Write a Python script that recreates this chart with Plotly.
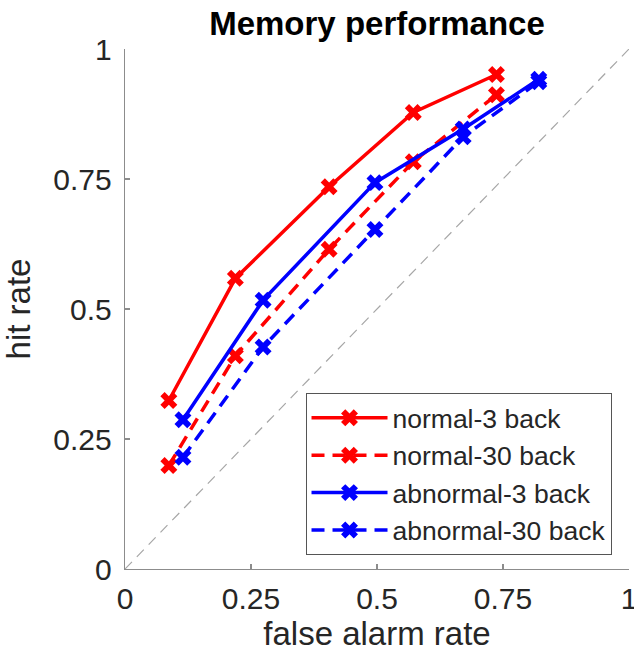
import plotly.graph_objects as go

# ---- data ----
fa_normal = [0.087, 0.219, 0.405, 0.572, 0.737]
hit_normal_3 = [0.324, 0.559, 0.735, 0.878, 0.951]
hit_normal_30 = [0.199, 0.410, 0.615, 0.783, 0.912]

fa_abnormal = [0.115, 0.274, 0.496, 0.671, 0.821]
hit_abnormal_3 = [0.287, 0.517, 0.743, 0.846, 0.942]
hit_abnormal_30 = [0.215, 0.427, 0.653, 0.831, 0.937]

chance_x = [0, 1]
chance_y = [0, 1]

tick_vals = [0, 0.25, 0.5, 0.75, 1]
tick_text = ["0", "0.25", "0.5", "0.75", "1"]

series = [
    ("normal-3 back", fa_normal, hit_normal_3, "#ff0000", "solid"),
    ("normal-30 back", fa_normal, hit_normal_30, "#ff0000", "13px,8px"),
    ("abnormal-3 back", fa_abnormal, hit_abnormal_3, "#0000ff", "solid"),
    ("abnormal-30 back", fa_abnormal, hit_abnormal_30, "#0000ff", "13px,8px"),
]

FONT = "Liberation Sans, Arial, Helvetica, sans-serif"
AXIS_COLOR = "#8c8c8c"
TEXT_COLOR = "#262626"

W, H = 634, 659

fig = go.Figure()

fig.add_trace(go.Scatter(
    x=chance_x, y=chance_y, mode="lines",
    line=dict(color="#a6a6a6", width=1.2, dash="10px,7px"),
    showlegend=False, hoverinfo="skip",
))

for name, xs, ys, color, dash in series:
    fig.add_trace(go.Scatter(
        x=xs, y=ys, name=name, mode="lines+markers",
        line=dict(color=color, width=3.5, dash=dash),
        marker=dict(symbol="x", size=15, color=color, line=dict(width=0)),
    ))

axis_common = dict(
    range=[0, 1],
    tickvals=tick_vals,
    ticktext=tick_text,
    showgrid=False,
    zeroline=False,
    showline=True,
    linecolor=AXIS_COLOR,
    linewidth=1.3,
    ticks="inside",
    ticklen=5,
    tickwidth=1.3,
    tickcolor=AXIS_COLOR,
    tickfont=dict(family=FONT, size=30, color=TEXT_COLOR),
    ticklabeloverflow="allow",
    mirror=False,
    fixedrange=True,
    automargin=False,
)

fig.update_layout(
    width=W,
    height=H,
    margin=dict(l=124.5, r=4.5, t=49, b=90),
    paper_bgcolor="white",
    plot_bgcolor="white",
    title=dict(
        text="<b>Memory performance</b>",
        font=dict(family=FONT, size=33, color="black"),
        x=0.5, xref="paper", xanchor="center",
        y=1 - 23 / H, yref="container", yanchor="middle",
        automargin=False,
    ),
    xaxis=dict(
        **axis_common,
        title=dict(text="false alarm rate",
                   font=dict(family=FONT, size=33, color=TEXT_COLOR),
                   standoff=6),
        ticklabelstandoff=3,
    ),
    yaxis=dict(
        **axis_common,
        title=dict(text="hit rate",
                   font=dict(family=FONT, size=33, color=TEXT_COLOR),
                   standoff=14),
        ticklabelstandoff=6,
    ),
    legend=dict(
        x=0.9653, xanchor="right", xref="paper",
        y=0.3385, yanchor="top", yref="paper",
        bgcolor="white",
        bordercolor="#555555",
        borderwidth=1,
        font=dict(family=FONT, size=26.5, color=TEXT_COLOR),
        tracegroupgap=0,
        itemwidth=76,
    ),
    showlegend=True,
)

fig.write_html(
    "out.html",
    config={"displayModeBar": False, "staticPlot": True},
    post_script="document.body.style.margin='0';document.body.style.overflow='hidden';",
)
